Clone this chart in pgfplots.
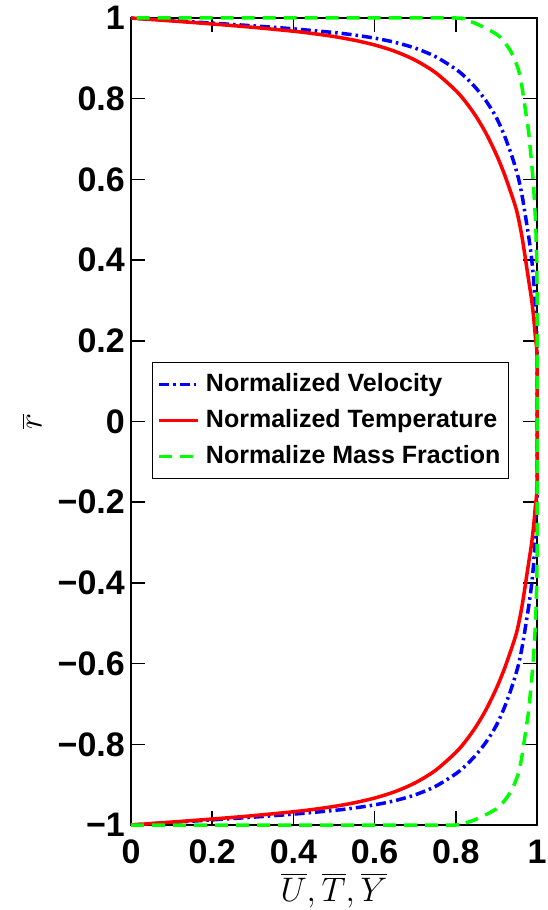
\RequirePackage{fix-cm}
\documentclass[border=0pt]{standalone}
\usepackage{exscale}
\usepackage{fontspec}
\setmainfont{Liberation Sans}
\usepackage{pgfplots}
\pgfplotsset{compat=1.18}

\begin{document}
\begin{tikzpicture}
\begin{axis}[
  scale only axis, width=406pt, height=807pt,
  xmin=0, xmax=1, ymin=-1, ymax=1,
  xtick={0,0.2,0.4,0.6,0.8,1},
  xticklabels={0,0.2,0.4,0.6,0.8,1},
  ytick={-1,-0.8,-0.6,-0.4,-0.2,0,0.2,0.4,0.6,0.8,1},
  yticklabels={−1,−0.8,−0.6,−0.4,−0.2,0,0.2,0.4,0.6,0.8,1},
  tick align=inside, major tick length=14pt,
  axis line style={line width=1.5pt},
  every tick/.style={black, line width=1.5pt},
  ticklabel style={font=\fontsize{34}{40}\selectfont\bfseries, inner sep=0pt},
  xticklabel style={yshift=-15pt},
  yticklabel style={xshift=-6pt},
  xlabel={$\overline{U},\overline{T},\overline{Y}$},
  xlabel style={font=\fontsize{34}{40}\selectfont, at={(axis description cs:0.5,0)}, anchor=north, yshift=-48pt, inner sep=0pt},
  ylabel={$\overline{r}$},
  ylabel style={font=\fontsize{34}{40}\selectfont, at={(axis description cs:-0.244,0.5)}, anchor=center, inner sep=0pt},
  clip=false,
  legend cell align=left,
  legend style={at={(axis description cs:0.0517,0.5737)}, anchor=north west,
    font=\fontsize{25}{30}\selectfont\bfseries, draw=black, line width=1pt,
    inner xsep=5pt, inner ysep=4pt, row sep=0pt, column sep=3pt,
    nodes={inner xsep=3pt, inner ysep=6.5pt, text height=18pt, text depth=5pt}},
  legend image code/.code={\draw[#1] (0pt,0pt) -- (39pt,0pt);},
]
\addplot[color=blue, line width=3.5pt, smooth, tension=0.5, dash pattern=on 10pt off 4pt on 2.5pt off 4pt] coordinates {
(0,-1) (0.1,-0.9937) (0.2,-0.9873) (0.3,-0.9806) (0.4,-0.9731) (0.5,-0.9639) (0.55,-0.9578) (0.6,-0.9501) (0.65,-0.9397) (0.7,-0.9252) (0.75,-0.9042) (0.8,-0.8731) (0.825,-0.852) (0.85,-0.8259) (0.875,-0.7938) (0.9,-0.753) (0.92,-0.708) (0.94,-0.652) (0.955,-0.6) (0.965,-0.55) (0.973,-0.5) (0.98,-0.455) (0.986,-0.41) (0.991,-0.36) (0.995,-0.3) (0.998,-0.24) (1,-0.19)
(1,0)
(1,0.19) (0.998,0.24) (0.995,0.3) (0.991,0.36) (0.986,0.41) (0.98,0.455) (0.973,0.5) (0.965,0.55) (0.955,0.6) (0.94,0.652) (0.92,0.708) (0.9,0.753) (0.875,0.7938) (0.85,0.8259) (0.825,0.852) (0.8,0.8731) (0.75,0.9042) (0.7,0.9252) (0.65,0.9397) (0.6,0.9501) (0.55,0.9578) (0.5,0.9639) (0.4,0.9731) (0.3,0.9806) (0.2,0.9873) (0.1,0.9937) (0,1)
};
\addlegendentry{Normalized Velocity}
\addplot[color=red, line width=3.5pt, smooth, tension=0.5] coordinates {
(0,-1) (0.1,-0.9927) (0.2,-0.9852) (0.3,-0.9769) (0.4,-0.9672) (0.45,-0.9612) (0.5,-0.954) (0.55,-0.9449) (0.6,-0.9332) (0.65,-0.9174) (0.7,-0.8955) (0.75,-0.8646) (0.8,-0.8202) (0.825,-0.791) (0.85,-0.7558) (0.875,-0.7131) (0.9,-0.6613) (0.92,-0.6121) (0.94,-0.5544) (0.95,-0.522) (0.957,-0.49) (0.963,-0.458) (0.969,-0.42) (0.975,-0.38) (0.981,-0.34) (0.987,-0.3) (0.992,-0.255) (0.996,-0.21) (1,-0.16)
(1,0)
(1,0.16) (0.996,0.21) (0.992,0.255) (0.987,0.3) (0.981,0.34) (0.975,0.38) (0.969,0.42) (0.963,0.458) (0.957,0.49) (0.95,0.522) (0.94,0.5544) (0.92,0.6121) (0.9,0.6613) (0.875,0.7131) (0.85,0.7558) (0.825,0.791) (0.8,0.8202) (0.75,0.8646) (0.7,0.8955) (0.65,0.9174) (0.6,0.9332) (0.55,0.9449) (0.5,0.954) (0.45,0.9612) (0.4,0.9672) (0.3,0.9769) (0.2,0.9852) (0.1,0.9927) (0,1)
};
\addlegendentry{Normalized Temperature}
\addplot[color=green, line width=3.5pt, smooth, tension=0.5, dash pattern=on 13pt off 8pt] coordinates {
(0,-1) (0.6,-1) (0.8,-1) (0.819,-0.996) (0.845,-0.988) (0.869,-0.977) (0.89,-0.966) (0.91,-0.952) (0.934,-0.92) (0.945,-0.897) (0.955,-0.869) (0.962,-0.835) (0.967,-0.803) (0.973,-0.762) (0.979,-0.721) (0.983,-0.68) (0.987,-0.638) (0.991,-0.59) (0.994,-0.54) (0.997,-0.483) (0.999,-0.41) (1,-0.34)
(1,0)
(1,0.34) (0.999,0.41) (0.997,0.483) (0.994,0.54) (0.991,0.59) (0.987,0.638) (0.983,0.68) (0.979,0.721) (0.973,0.762) (0.967,0.803) (0.962,0.835) (0.955,0.869) (0.945,0.897) (0.934,0.92) (0.91,0.952) (0.89,0.966) (0.869,0.977) (0.845,0.988) (0.819,0.996) (0.8,1) (0.6,1) (0,1)
};
\addlegendentry{Normalize Mass Fraction}
\end{axis}
\pgfresetboundingbox
\useasboundingbox ([xshift=-131pt,yshift=-85pt]current axis.south west) rectangle ([xshift=11pt,yshift=18pt]current axis.north east);
\end{tikzpicture}
\end{document}
